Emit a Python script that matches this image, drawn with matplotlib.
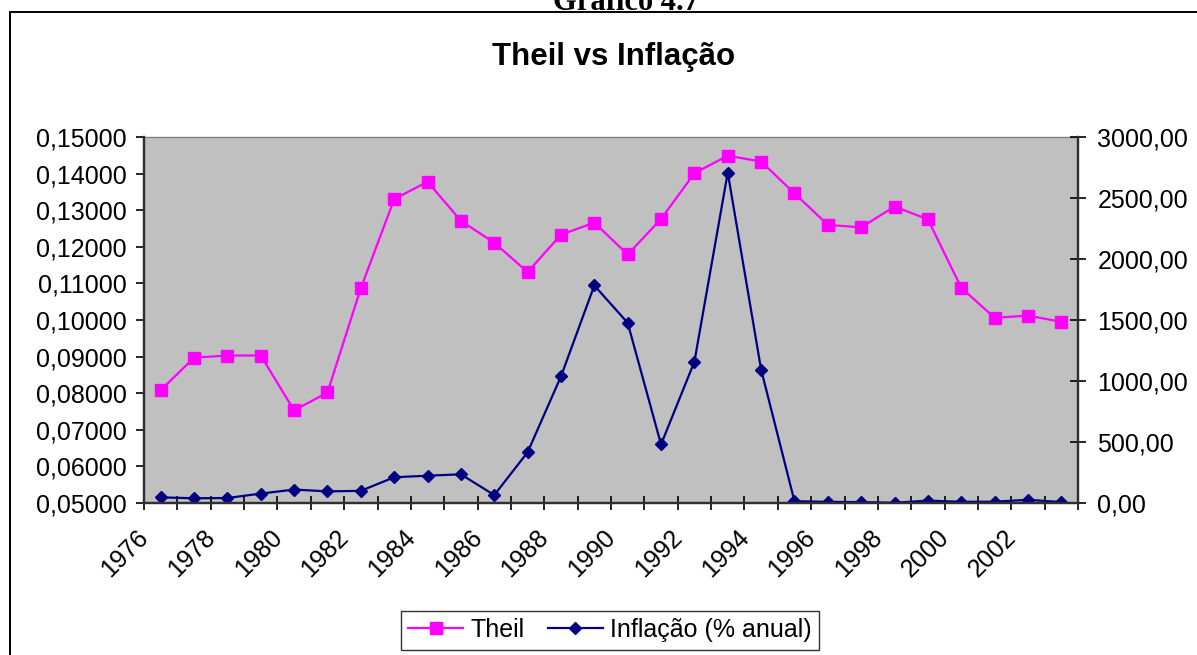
import numpy as np
import matplotlib.pyplot as plt
import matplotlib.transforms as mtransforms
from matplotlib.patches import Rectangle
from matplotlib.ticker import FuncFormatter, FixedLocator

plt.rcParams['font.family'] = ['Liberation Sans', 'DejaVu Sans']

anos = list(range(1976, 2004))
theil = [0.0808, 0.0897, 0.0903, 0.0903, 0.0753, 0.0802, 0.1087, 0.1330,
         0.1378, 0.1271, 0.1211, 0.1131, 0.1233, 0.1266, 0.1179, 0.1276,
         0.1401, 0.1449, 0.1433, 0.1346, 0.1260, 0.1253, 0.1310, 0.1275,
         0.1088, 0.1006, 0.1012, 0.0995]
inflacao = [46.3, 38.8, 40.8, 77.2, 110.2, 95.2, 99.7, 211.0,
            223.8, 235.1, 65.0, 415.8, 1037.6, 1782.9, 1476.7, 480.2,
            1157.8, 2708.2, 1093.9, 14.8, 9.3, 7.5, 1.7, 20.0,
            9.8, 10.4, 26.4, 7.7]
rotulos = [str(a) for a in anos[::2]]

W, H = 1197, 655
fig = plt.figure(figsize=(W / 100, H / 100), dpi=100)
fig.patch.set_facecolor('white')

# moldura do grafico (cortada a direita e embaixo)
fig.patches.append(Rectangle((10 / W, -0.2), 1.5, 1 - 12 / H + 0.2, fill=False,
                             lw=1.4, edgecolor='black', transform=fig.transFigure))

fig.text(626 / W, 1 - 10 / H, 'Gráfico 4.7', family=['Liberation Serif', 'DejaVu Serif'],
         fontsize=22, fontweight='bold', ha='center', va='baseline')
fig.text(614 / W, 1 - 65 / H, 'Theil vs Inflação', fontsize=22.5, fontweight='bold',
         ha='center', va='baseline')

ax = fig.add_axes([144 / W, 1 - 503 / H, (1078 - 144) / W, (503 - 137) / H])
ax.set_facecolor('#C0C0C0')
x = np.arange(len(anos))
l1, = ax.plot(x, theil, color='#FF00FF', lw=1.6, marker='s', ms=9, label='Theil')
ax.set_xlim(-0.5, len(anos) - 0.5)
ax.set_ylim(0.05, 0.15)
ax.yaxis.set_major_locator(FixedLocator(np.arange(0.05, 0.1501, 0.01)))
ax.yaxis.set_major_formatter(FuncFormatter(lambda v, p: f'{v:.5f}'.replace('.', ',')))
ax.tick_params(axis='y', direction='out', length=6, width=1.2, pad=6.5, labelsize=18)

ax.xaxis.set_major_locator(FixedLocator(np.arange(-0.5, len(anos), 1.0)))
ax.xaxis.set_major_formatter(FuncFormatter(lambda v, p: ''))
ax.xaxis.set_minor_locator(FixedLocator(x[::2]))
ax.set_xticklabels(rotulos, minor=True)
ax.tick_params(axis='x', which='major', direction='inout', length=10, width=1.2)
ax.tick_params(axis='x', which='minor', length=0, pad=22, labelsize=18)
off = mtransforms.ScaledTranslation(-16 / 100, 0, fig.dpi_scale_trans)
for t in ax.get_xticklabels(minor=True):
    t.set_rotation(45)
    t.set_ha('right')
    t.set_va('center')
    t.set_rotation_mode('anchor')
    t.set_transform(t.get_transform() + off)

for s in ['left', 'bottom', 'right']:
    ax.spines[s].set_color('#303030')
    ax.spines[s].set_linewidth(1.6)
ax.spines['top'].set_color('#808080')
ax.spines['top'].set_linewidth(1.0)

ax2 = ax.twinx()
l2, = ax2.plot(x, inflacao, color='#000080', lw=1.6, marker='D', ms=6.2,
               label='Inflação (% anual)')
ax2.set_ylim(0, 3000)
ax2.yaxis.set_major_locator(FixedLocator(np.arange(0, 3001, 500)))
ax2.yaxis.set_major_formatter(FuncFormatter(lambda v, p: f'{v:.2f}'.replace('.', ',')))
ax2.tick_params(axis='y', direction='inout', length=12, width=1.2, pad=8, labelsize=18)
for s in ['left', 'bottom', 'right']:
    ax2.spines[s].set_color('#303030')
    ax2.spines[s].set_linewidth(1.6)
ax2.spines['top'].set_visible(False)

leg = fig.legend([l1, l2], ['Theil', 'Inflação (% anual)'], loc='center',
                 bbox_to_anchor=(610 / W, 1 - 630 / H), ncol=2, fontsize=18,
                 frameon=True, fancybox=False, edgecolor='black', handlelength=2.2,
                 handletextpad=0.3, columnspacing=0.9, borderpad=0.3)
leg.get_frame().set_linewidth(1.0)

fig.savefig('out.png', dpi=100)
